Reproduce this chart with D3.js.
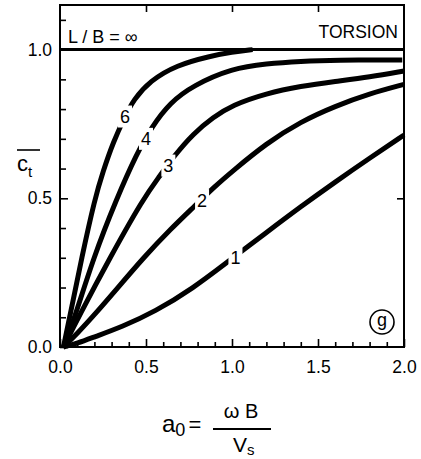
<!DOCTYPE html>
<html>
<head>
<meta charset="utf-8">
<script src="https://cdn.jsdelivr.net/npm/d3@7"></script>
<style>
  body { margin: 0; background: #fff; }
  svg { font-family: "Liberation Sans", Arial, Helvetica, sans-serif; }
  .axis path { display: none; }
  .axis line { stroke: #000; stroke-width: 1.6; }
  .axis text { font-size: 17.5px; fill: #000; }
  .curve { fill: none; stroke: #000; stroke-width: 5; }
</style>
</head>
<body>
<div id="chart"></div>
<script>
// valores (a0, ct)
var a_1 = [0.02, 0.1, 0.2, 0.36, 0.55, 0.775, 0.969, 1.2, 1.4, 1.6, 1.8, 2.0];
var c_1 = [0, 0.012, 0.034, 0.068, 0.118, 0.198, 0.284, 0.385, 0.472, 0.555, 0.635, 0.713];

var a_2 = [0.02, 0.1, 0.2, 0.33, 0.485, 0.64, 0.785, 0.9, 1.0, 1.2, 1.4, 1.6, 1.8, 2.0];
var c_2 = [0, 0.045, 0.108, 0.195, 0.30, 0.395, 0.475, 0.54, 0.59, 0.685, 0.758, 0.81, 0.852, 0.883];

var a_3 = [0.02, 0.107, 0.29, 0.485, 0.58, 0.66, 0.775, 0.89, 1.0, 1.2, 1.4, 1.6, 1.8, 2.0];
var c_3 = [0, 0.10, 0.30, 0.50, 0.575, 0.64, 0.718, 0.772, 0.813, 0.853, 0.877, 0.893, 0.908, 0.928];

var a_4 = [0.02, 0.078, 0.194, 0.33, 0.446, 0.533, 0.64, 0.775, 1.0, 1.2, 1.4, 1.6, 1.99];
var c_4 = [0, 0.085, 0.30, 0.50, 0.65, 0.74, 0.822, 0.88, 0.937, 0.953, 0.961, 0.965, 0.965];

var a_6 = [0.02, 0.06, 0.126, 0.203, 0.25, 0.31, 0.378, 0.426, 0.523, 0.678, 0.872, 1.0, 1.12];
var c_6 = [0, 0.11, 0.30, 0.50, 0.59, 0.69, 0.775, 0.83, 0.895, 0.948, 0.978, 0.992, 1.0];

var curve_names = ["1", "2", "3", "4", "6"];
// posicion de la etiqueta de cada curva
var label_a = [1.02, 0.826, 0.63, 0.5, 0.378];
var label_c = [0.30, 0.494, 0.61, 0.70, 0.775];

var x_major = [0, 0.5, 1.0, 1.5, 2.0];
var x_minor = [0.1, 0.2, 0.3, 0.4, 0.6, 0.7, 0.8, 0.9, 1.1, 1.2, 1.3, 1.4, 1.6, 1.7, 1.8, 1.9];
var y_major = [0, 0.5, 1.0];
var y_minor = [0.1, 0.2, 0.3, 0.4, 0.6, 0.7, 0.8, 0.9, 1.1];
var limit_value = 1.0;

var margin = {top: 5, right: 17, bottom: 112, left: 60},
    width = 421 - margin.left - margin.right,
    height = 459 - margin.top - margin.bottom;

var x = d3.scaleLinear().domain([0, 2.0]).range([0, width]);
var y = d3.scaleLinear().domain([0, 1.15]).range([height, 0]);

var fmt = d3.format(".1f");

var svg = d3.select("#chart")
    .append("svg")
    .attr("width", 421)
    .attr("height", 459);

var g = svg.append("g")
    .attr("transform", "translate(" + margin.left + "," + margin.top + ")");

// ejes: ticks hacia dentro
g.append("g").attr("class", "x axis")
    .attr("transform", "translate(0," + height + ")")
    .call(d3.axisBottom(x).tickValues(x_major).tickSize(-8).tickPadding(14).tickFormat(fmt));
g.append("g").attr("class", "x axis")
    .attr("transform", "translate(0," + height + ")")
    .call(d3.axisBottom(x).tickValues(x_minor).tickSize(-5).tickFormat(""));
g.append("g").attr("class", "x axis")
    .call(d3.axisTop(x).tickValues(x_major.slice(1, 4)).tickSize(-7).tickFormat(""));

g.append("g").attr("class", "y axis")
    .call(d3.axisLeft(y).tickValues(y_major).tickSize(-8).tickPadding(8).tickFormat(fmt));
g.append("g").attr("class", "y axis")
    .call(d3.axisLeft(y).tickValues(y_minor).tickSize(-6).tickFormat(""));
g.append("g").attr("class", "y axis")
    .attr("transform", "translate(" + width + ",0)")
    .call(d3.axisRight(y).tickValues([0.5]).tickSize(-7).tickFormat(""));

// marco
g.append("rect")
    .attr("width", width).attr("height", height)
    .attr("fill", "none").attr("stroke", "#000").attr("stroke-width", 2);

// linea L/B = infinito
g.append("line")
    .attr("x1", x(0)).attr("x2", x(2.0))
    .attr("y1", y(limit_value)).attr("y2", y(limit_value))
    .attr("stroke", "#000").attr("stroke-width", 3);

var series = [[a_1, c_1], [a_2, c_2], [a_3, c_3], [a_4, c_4], [a_6, c_6]];

var line = d3.line()
    .x(function(d) { return x(d[0]); })
    .y(function(d) { return y(d[1]); })
    .curve(d3.curveBasis);

series.forEach(function(s, i) {
    var pts = s[0].map(function(a, j) { return [a, s[1][j]]; });
    g.append("path").attr("class", "curve").attr("d", line(pts));
});

// etiquetas de las curvas (hueco blanco en la linea)
curve_names.forEach(function(n, i) {
    var px = x(label_a[i]), py = y(label_c[i]);
    g.append("rect")
        .attr("x", px - 7).attr("y", py - 11)
        .attr("width", 14).attr("height", 22)
        .attr("fill", "#fff");
    g.append("text")
        .attr("x", px).attr("y", py)
        .attr("dy", "0.36em")
        .attr("text-anchor", "middle")
        .style("font-size", "18px")
        .text(n);
});

g.append("text")
    .attr("x", 8).attr("y", 38)
    .style("font-size", "18px")
    .text("L / B = \u221E");

g.append("text")
    .attr("x", width - 6).attr("y", 33)
    .attr("text-anchor", "end")
    .style("font-size", "17.5px")
    .text("TORSION");

// (g)
g.append("circle")
    .attr("cx", width - 22).attr("cy", height - 25)
    .attr("r", 12).attr("fill", "none").attr("stroke", "#000").attr("stroke-width", 1.6);
g.append("text")
    .attr("x", width - 22).attr("y", height - 25)
    .attr("dy", "0.2em")
    .attr("text-anchor", "middle")
    .style("font-size", "18px")
    .text("g");

// titulo eje y: c_t con barra
svg.append("line")
    .attr("x1", 17).attr("x2", 40).attr("y1", 150).attr("y2", 150)
    .attr("stroke", "#000").attr("stroke-width", 1.6);
var yt = svg.append("text").attr("x", 17).attr("y", 171).style("font-size", "22px");
yt.append("tspan").text("c");
yt.append("tspan").attr("dy", 6).style("font-size", "15px").text("t");

// titulo eje x: a0 = wB / Vs
var xt = svg.append("text").attr("x", 162).attr("y", 432).style("font-size", "24px");
xt.append("tspan").text("a");
xt.append("tspan").attr("dy", 4).style("font-size", "18px").text("0");
xt.append("tspan").attr("dy", -4).attr("dx", 3).style("font-size", "22px").text("=");

svg.append("text")
    .attr("x", 241).attr("y", 418)
    .attr("text-anchor", "middle")
    .style("font-size", "20px")
    .text("\u03C9 B");
svg.append("line")
    .attr("x1", 213).attr("x2", 271).attr("y1", 429).attr("y2", 429)
    .attr("stroke", "#000").attr("stroke-width", 1.8);
var vt = svg.append("text").attr("x", 233).attr("y", 452).style("font-size", "21px");
vt.append("tspan").text("V");
vt.append("tspan").attr("dy", 3).style("font-size", "15px").text("s");
</script>
</body>
</html>
